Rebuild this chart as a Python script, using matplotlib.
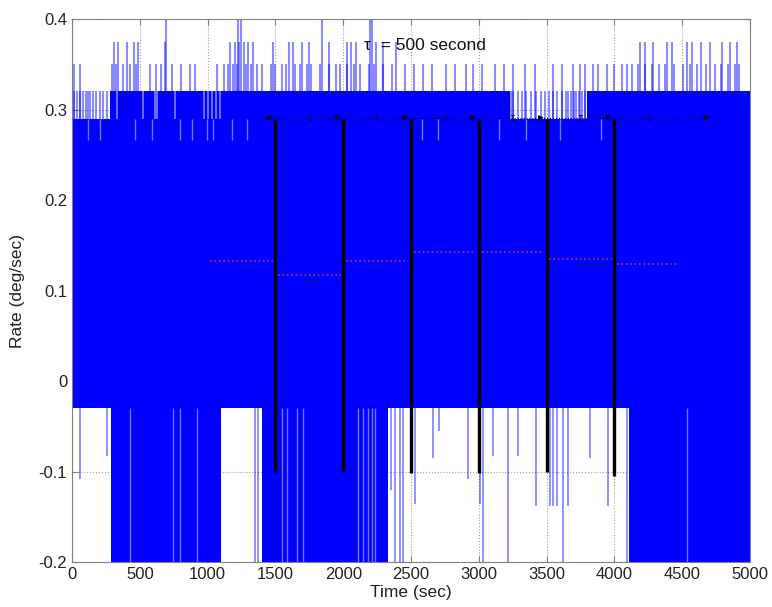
import numpy as np
import matplotlib.pyplot as plt

plt.rcParams['font.family'] = ['Liberation Sans', 'DejaVu Sans']

top_edges = [0, 280, 3230, 3800, 5000]
top_levels = [0.29, 0.32, 0.29, 0.32]
low_edges = [0, 290, 1100, 1400, 2330, 4110, 5000]
low_levels = [-0.03, -0.2, -0.03, -0.2, -0.03, -0.2]

# upward spikes grouped by the level they reach
rise_032 = [15, 37, 59, 80, 100, 118, 135, 155, 180, 206, 230, 258,
            3235, 3255, 3290, 3320, 3350, 3385, 3420, 3455, 3490, 3515, 3545, 3580, 3610,
            3640, 3660, 3680, 3700, 3720, 3740, 3760, 3780]
rise_035 = [11, 60, 292, 325, 374, 424, 474, 573, 622, 655, 738, 804, 870, 904, 1069, 1119,
            1152, 1185, 1218, 1284, 1317, 1367, 1400, 1466, 1499, 1548, 1581, 1648, 1681, 1730,
            1763, 1830, 1896, 1945, 1978, 2028, 2078, 2127, 2193, 2226, 2293, 2359, 2458, 2524,
            2590, 2656, 2756, 2822, 2904, 2954, 3020, 3119, 3185, 3252, 3341, 3417, 3549, 3615,
            3695, 3747, 3784, 3843, 3880, 3946, 3996, 4057, 4093, 4130, 4174, 4227, 4277, 4326,
            4376, 4442, 4508, 4558, 4607, 4674, 4740, 4789, 4839, 4889, 4922]
rise_0375 = [308, 341, 407, 457, 490, 689, 1168, 1201, 1234, 1267, 1300, 1333, 1482, 1598,
             1631, 1697, 1747, 1896, 2028, 2061, 2094, 2243, 2292, 2392, 4189, 4226, 4285,
             4388, 4425, 4535, 4572, 4640, 4707, 4793, 4852, 4904]
rise_040 = [693, 1224, 1246, 1844, 2198, 2212]

# downward spikes out of the lower edge
drop_t = [59, 260, 295, 317, 1350, 1375, 2350, 2380, 2420, 2443, 2530, 2663, 2707, 2921,
          3009, 3031, 3105, 3216, 3290, 3422, 3525, 3550, 3577, 3621, 3658, 3820, 3953, 4093]
drop_v = [-0.108, -0.083, -0.2, -0.2, -0.2, -0.2, -0.12, -0.2, -0.2, -0.2, -0.136, -0.085,
          -0.055, -0.108, -0.136, -0.2, -0.083, -0.2, -0.083, -0.138, -0.138, -0.138, -0.138,
          -0.2, -0.138, -0.085, -0.138, -0.2]

# thin light gaps inside the solid parts
gap_hi_t = [118, 206, 465, 590, 797, 885, 995, 1040, 1180, 1290, 2580, 2700, 3150, 3350,
            3600, 3900]
gap_mid_t = [330, 520, 610, 628, 760, 975, 1000, 1030, 1060, 1090]
gap_low_t = [428, 745, 797, 922, 1549, 1585, 1659, 1703, 2109, 2146, 2183, 2213, 2235, 4535]

# averaging windows
tau_t = [1500, 2000, 2500, 3000, 3500, 4000]
tau_bottom = [-0.1, -0.1, -0.102, -0.102, -0.1, -0.105]
win_start = [1000, 1500, 2000, 2500, 3000, 3500, 4000]
win_mean = [0.133, 0.117, 0.133, 0.143, 0.142, 0.135, 0.129]

blue = '#0000ff'
fig = plt.figure(figsize=(7.72, 6.07), dpi=100)
ax = fig.add_axes([0.0933, 0.0741, 0.8782, 0.8946])

ax.fill_between(top_edges, 0, top_levels + [top_levels[-1]], step='post',
                color=blue, lw=0, zorder=2)
ax.fill_between(low_edges, low_levels + [low_levels[-1]], 0.01, step='post',
                color=blue, lw=0, zorder=2)

for lev, times in zip([0.32, 0.35, 0.375, 0.4], [rise_032, rise_035, rise_0375, rise_040]):
    ax.vlines(times, 0.26, lev, color=blue, lw=1.5, alpha=0.45, zorder=2)
ax.vlines(drop_t, drop_v, -0.02, color=blue, lw=1.2, alpha=0.5, zorder=2)
ax.vlines(gap_hi_t, 0.266, 0.29, color='white', lw=1.0, alpha=0.45, zorder=2)
ax.vlines(gap_mid_t, 0.29, 0.32, color='white', lw=1.2, alpha=0.5, zorder=2)
ax.vlines(gap_low_t, -0.2, -0.03, color='white', lw=1.0, alpha=0.45, zorder=2)

# mean over each window
for t0, m in zip(win_start, win_mean):
    ax.plot([t0 + 20, t0 + 480], [m, m], ls=':', color='#c03050', lw=1.2, zorder=3)

# window markers
ax.vlines(tau_t, tau_bottom, 0.29, color='black', lw=2.4, zorder=4)
ax.plot([1370, 4720], [0.291, 0.291], ls=':', color='black', lw=0.8, zorder=4)
for x in tau_t + [4720]:
    ax.annotate('', xy=(x, 0.291), xytext=(x - 70, 0.291),
                arrowprops=dict(arrowstyle='-|>', color='black', lw=0.8,
                                mutation_scale=7), zorder=4)
for x in tau_t:
    ax.text(x + 250, 0.291, 'τ', fontsize=7, ha='center', va='center', zorder=4)

ax.text(2150, 0.371, 'τ  = 500 second', fontsize=12.5, va='center', color='#111111', zorder=5)

ax.set_xlim(0, 5000)
ax.set_ylim(-0.2, 0.4)
ax.set_xticks(np.arange(0, 5001, 500))
yt = [-0.2, -0.1, 0, 0.1, 0.2, 0.3, 0.4]
ax.set_yticks(yt)
ax.set_yticklabels(['-0.2', '-0.1', '0', '0.1', '0.2', '0.3', '0.4'])
ax.grid(True, ls=':', color='#a0a0a0', lw=0.8)
ax.set_axisbelow(True)
ax.tick_params(direction='in', top=True, right=True, length=4, color='#808080',
               labelsize=12, labelcolor='#222222')
for s in ax.spines.values():
    s.set_color('#808080')
    s.set_linewidth(0.8)

ax.set_xlabel('Time (sec)', fontsize=12.5, color='#222222', labelpad=2)
ax.set_ylabel('Rate (deg/sec)', fontsize=12.5, color='#222222')
ax.yaxis.set_label_coords(-0.07, 0.5)

fig.savefig('out.png', dpi=100)
